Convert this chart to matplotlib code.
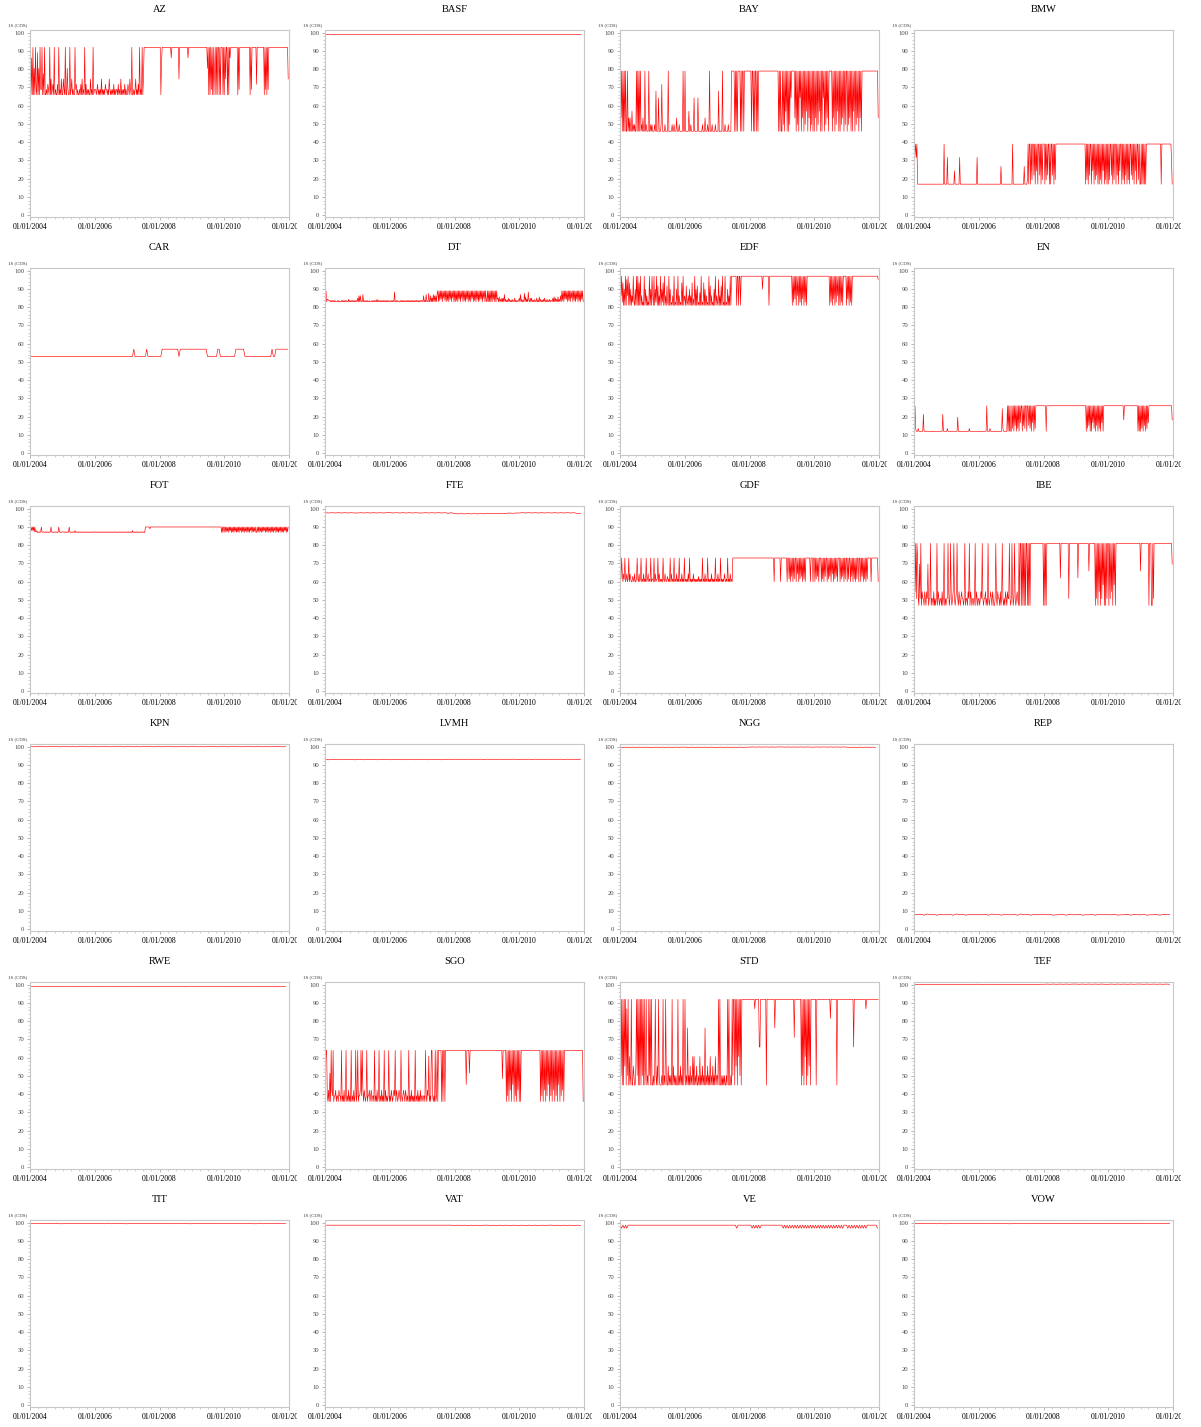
import datetime as dt
import matplotlib
matplotlib.use("Agg")
import matplotlib.pyplot as plt
import matplotlib.dates as mdates
from matplotlib.ticker import MultipleLocator
from matplotlib.transforms import Bbox

# Each series: (low, high) level and one pattern string per year 2004..2011.
# A digit d in a pattern stands for low + (high - low) * d / 9.
names = ["AZ", "BASF", "BAY", "BMW",
         "CAR", "DT", "EDF", "EN",
         "FOT", "FTE", "GDF", "IBE",
         "KPN", "LVMH", "NGG", "REP",
         "RWE", "SGO", "STD", "TEF",
         "TIT", "VAT", "VE", "VOW"]

levels = {
    "AZ": (66, 92), "BASF": (98.3, 99.7), "BAY": (46, 79), "BMW": (17, 39),
    "CAR": (53, 57), "DT": (83, 89), "EDF": (81, 97), "EN": (12, 26),
    "FOT": (87, 90), "FTE": (96.5, 98), "GDF": (60, 73), "IBE": (47, 81),
    "KPN": (99.5, 100.5), "LVMH": (92.5, 93.5), "NGG": (99, 100), "REP": (7, 9),
    "RWE": (98.5, 99.5), "SGO": (36, 64), "STD": (45, 92), "TEF": (99.7, 100.7),
    "TIT": (99, 100), "VAT": (98, 99), "VE": (96, 99), "VOW": (99, 100),
}

patterns = {
    "AZ": ["90709050910805091190409001021090301209010020901030",
           "03109005100901301009120100102030109020101003010901",
           "11012010103010102110103101010201011020103010102010",
           "02103109001013010209010903999999999999999999999999",
           "99069999999999999979999999999939999999999999799999",
           "99999999999999999999999959090919090590909909099909",
           "09399090979999999999909199999999999999990919999999",
           "29999999999909190919999999999999999999999999999993"],
    "BASF": ["545454545545", "454545455454", "545454545454", "454545454554",
             "545455454545", "545454545454", "454545545454", "545454545454"],
    "BAY": ["92909090900902020030101009090909010200901000900101",
            "00010600050001700001000090000010010002000100000900",
            "90000030010000500000500000010002000100900010000100",
            "00600000900010000100009999909090999909099099999999",
            "99909909099090999999999999999999999999999999909090",
            "09190939090919599999290919095909290919390929091909",
            "09290919390909590919290999990929091939090919290919",
            "90919290909390919290929099999999999999999999999992"],
    "BMW": ["37969000000000000000000000000000000000000000009000",
            "06000000000030000000600000000000000000000000000600",
            "00000000000000000000000000000000004000000000000000",
            "00900000000000000000400001909909199290939099290919",
            "99091929909099290919999999999999999999999999999999",
            "99999999999999909190929909390919290909190939091909",
            "09199290919909290939909190929091909929190939099190",
            "09090909099999999999999999999999099999999999999950"],
    "CAR": ["0000000000000000000000000", "0000000000000000000000000",
            "0000000000000000000000000", "0000090000000009000000000",
            "0099999999999990999999999", "9999999999990000000099000",
            "0000000009999999000000000", "0000000000009009999999999"],
    "DT": ["19022111010101010001010001010101010020101010101010",
           "30505010601001010010001010101020101010101010101010",
           "01010108001010001010101001010101010101010101010101",
           "10501060107005030605050790919290939190919092909390",
           "90919092909390919092909190939091909290919290939091",
           "09090909092909092304020303060201030201020103010101",
           "30602010704020810303010201030104020102030102010201",
           "10304030204020509190929290919093909190929091909290"],
    "EDF": ["93917050908390705031910509090709030109050301090509",
            "30905190603090517090306109050103090105090301070903",
            "20601305030702090506010409010705030109060301050903",
            "10803060901090105030909999999909909909999999999999",
            "99999999999999999999599999999909999999999999999999",
            "99999999999999990919290939091909290919099999999999",
            "99999999999999999999999909190929091939090919099999",
            "09290919099999999999999999999999999999999999999998"],
    "EN": ["19100010000000600000000000000000000000000000600000",
           "01000000000000000500000000000000000100000000000000",
           "00000000000090000100000000000000000081000000909090",
           "09190929091909399092919909929190939091999999999999",
           "99990999999999999999999999999999999999999999999999",
           "99999999999999990919290909391909290919093909999999",
           "99999999999999999999999949999999999999999999990909",
           "09190929091939999999999999999999999999999999999994"],
    "FOT": ["19393919113010101910110101010101910101010101910101",
            "11010101019101010103010101010101010101010101010101",
            "10101010101010101010101010101010101010101010101010",
            "10101010301010101010101010109999999699999999999999",
            "99999999999999999999999999999999999999999999999999",
            "99999999999999999999999999999999999999999999990909",
            "90919290939091909290919093909190929091909390919290",
            "09190929091939091909290919093909190929091909390919"],
    "FTE": ["8787878787", "7878787878", "8787878787", "7878787868",
            "5454545454", "6565656767", "7878787878", "7878787855"],
    "GDF": ["91930319013019031002103001910301901030109013010901",
            "10903011903010109103101201090301090103010901030109",
            "01010309010103010101020101090103010901010301010901",
            "03010901010310109010301099999999999999999999999999",
            "99999999999999999999999999999999999999099999999909",
            "99999999099190929091990939091929091909999999099909",
            "90919290999091909299091929093909192909990919290919",
            "90919909290919091990990929091909199999099999999990"],
    "IBE": ["62919710619021102102160119011020101902101102019010",
            "11920191012910129102101211019011021902101101902101",
            "10121910112010910121021001910211020191010210211910",
            "19201910121090990909090990909099999999999999999999",
            "09090999999999999999999999499999999999919999999999",
            "99949999999999999999599999999909190929091939090919",
            "90919290939099999999999999999999999999999999999999",
            "59999999999990999009199999999999999999999999999996"],
    "KPN": ["5455545554", "5545455545", "5455545554", "5545455545",
            "5455545554", "5545455545", "5455545554", "5545455545"],
    "LVMH": ["5354535453", "4535453545", "3545354535", "4535453565",
             "6565656565", "6565656565", "5656565656", "5656565656"],
    "NGG": ["7676767676", "6767676767", "7676767676", "6767676767",
            "7878787878", "8787878787", "7878787878", "7676767676"],
    "REP": ["5453645354", "4536453545", "5453645354", "4536453545",
            "5453445354", "4534453545", "4453445354", "4534453545"],
    "RWE": ["5454545454", "4545454545", "5454545454", "4545454545",
            "5656565656", "6565656565", "5454545454", "4545454545"],
    "SGO": ["59910205092190112011021109010201901020109010201901",
            "90112919202101901120120110901020190102010902010190",
            "10210121902101210910121021010901020101090102010201",
            "10110910218010991010901909999909099099999999999999",
            "99999999999999999939999599999999999999999999999999",
            "99999999999999999999999949999909190929093909190929",
            "09099999999999999999999999999999909190929091939091",
            "90929091909390919290999999999999999999999999999990"],
    "STD": ["91909092908190301900210029190909091909029010919090",
            "01019102091000109010910020101090201010090102010902",
            "90106010201030301020010301020106010201030102010301",
            "10909001010100109090010919909290939190999999999999",
            "99999999899999944999999999099999999999969999999999",
            "99999999999999999995999999999909190939091929099999",
            "99909999999999999999999997999999999099999999999999",
            "99999999999499999999999999999989999999999999999999"],
    "TEF": ["5454545454", "4545454545", "5454545454", "4545454545",
            "5656565656", "6565656565", "5656565656", "6565656565"],
    "TIT": ["5454545454", "4545454545", "5454545454", "4545454545",
            "5454545454", "4545454545", "5454545454", "4545454545"],
    "VAT": ["6666666666", "6666666666", "6666666666", "6666666666",
            "5656465646", "6564656465", "5646564656", "6564656465"],
    "VE": ["8383838888888888888888888", "8888888888888888888888888",
           "8888888888888888888888888", "8888888888888883888888888",
           "8838383838888888888888888", "8383838383838383838383838",
           "3838383838383838383838388", "8383838383838383888888883"],
    "VOW": ["5454545454", "4545454545", "5454545454", "4545454545",
            "5656565656", "6565656565", "5656565656", "5454545454"],
}

years = [2004, 2005, 2006, 2007, 2008, 2009, 2010, 2011]
y_label = "1S (CDS)"

plt.rcParams['font.family'] = ['Liberation Serif', 'DejaVu Serif']

fig = plt.figure(figsize=(12.01, 14.27), dpi=100)
W, H = 1201, 1427
col_left = [30, 325, 620, 914]
row_top = [30, 268, 506, 744, 982, 1220]
ax_w, ax_h = 259, 187

for k, name in enumerate(names):
    r, c = divmod(k, 4)
    ax = fig.add_axes([col_left[c] / W, 1 - (row_top[r] + ax_h) / H, ax_w / W, ax_h / H])

    lo, hi = levels[name]
    xs, ys = [], []
    for yr, pat in zip(years, patterns[name]):
        start = mdates.date2num(dt.datetime(yr, 1, 1))
        n = len(pat)
        for i, ch in enumerate(pat):
            xs.append(start + 365.25 * i / n)
            ys.append(lo + (hi - lo) * int(ch) / 9)
    ax.plot(xs, ys, color='red', lw=0.45)

    ax.set_xlim(mdates.date2num(dt.datetime(2003, 12, 28)), mdates.date2num(dt.datetime(2012, 1, 3)))
    ax.set_ylim(-1, 101.5)
    ax.yaxis.set_major_locator(MultipleLocator(10))
    ax.yaxis.set_minor_locator(MultipleLocator(2))
    ax.xaxis.set_major_locator(mdates.YearLocator(2))
    ax.xaxis.set_minor_locator(mdates.MonthLocator(bymonth=[1, 4, 7, 10]))
    ax.xaxis.set_major_formatter(mdates.DateFormatter('%m/%d/%Y'))

    for s in ax.spines.values():
        s.set_color('#c8c8c8')
        s.set_linewidth(0.8)
    ax.tick_params(which='major', length=2.5, width=0.5, color='#999999')
    ax.tick_params(which='minor', length=1.5, width=0.4, color='#aaaaaa')
    ax.tick_params(axis='y', labelsize=4.8, labelcolor='#444444', pad=1.5)
    ax.tick_params(axis='x', labelsize=5.6, labelcolor='black', pad=2)

    # clip the date labels a little past the right edge, as in the original
    clip = Bbox.from_extents(col_left[c] - 30, 0, col_left[c] + ax_w + 8, H)
    for t in ax.xaxis.get_major_ticks():
        t.label1.set_clip_box(clip)
        t.label1.set_clip_on(True)

    ax.set_title(name, fontsize=7.5, pad=13)
    ax.text(-0.085, 1.015, y_label, transform=ax.transAxes, fontsize=3.5,
            color='#333333', ha='left', va='bottom')

fig.savefig('out.png', dpi=100)
